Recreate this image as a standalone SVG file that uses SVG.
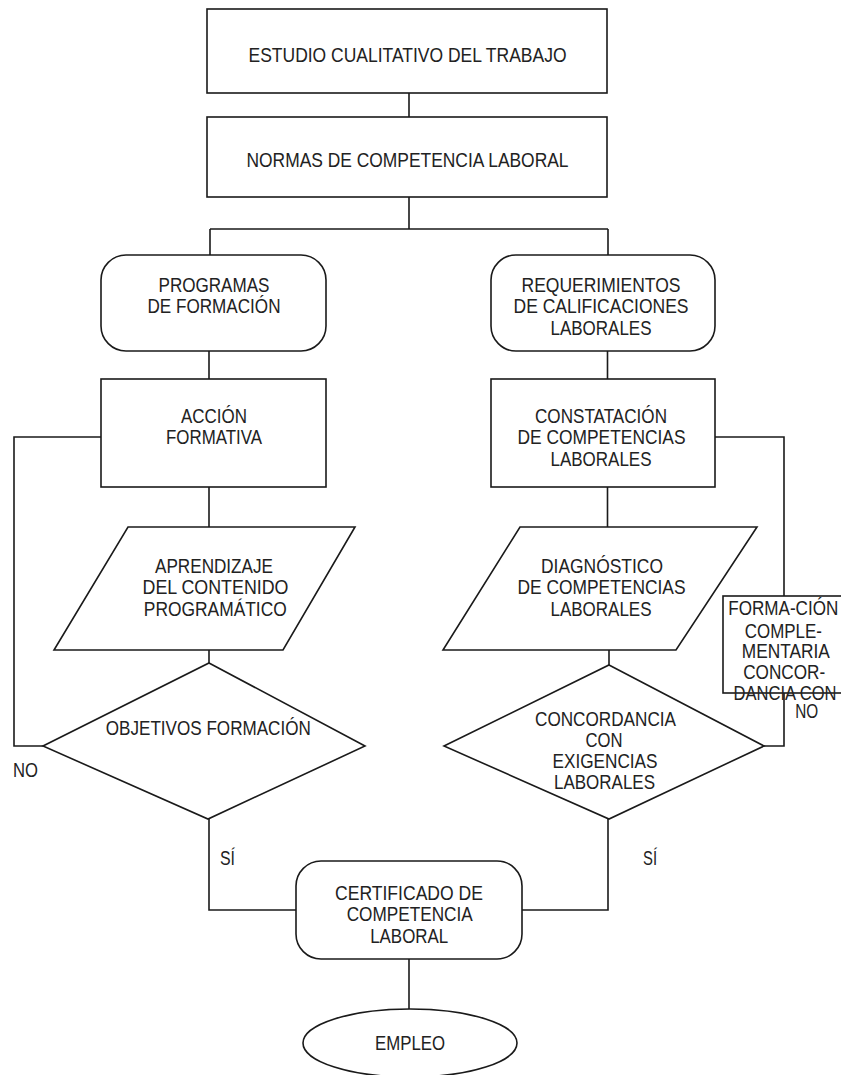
<svg xmlns="http://www.w3.org/2000/svg" width="841" height="1075" viewBox="0 0 841 1075">
<style>
.s{fill:#fff;stroke:#1a1a1a;stroke-width:1.6}
.c{fill:none;stroke:#1a1a1a;stroke-width:1.6}
text{font-family:"Liberation Sans",Arial,sans-serif;font-size:21px;fill:#222;text-anchor:middle}
.l{text-anchor:start}
</style>
<rect width="841" height="1075" fill="#fff"/>
<g id="connectors">
<path class="c" d="M409,93V117M409,197V229M210,229H608M210,229V255M608,229V255"/>
<path class="c" d="M209,351V379M209,487V527M209,650V663"/>
<path class="c" d="M607.5,351V379M607.5,487V527M609,650V665"/>
<path class="c" d="M101,437H14V746H43"/>
<path class="c" d="M715,437H784V596M784,693V746H764"/>
<path class="c" d="M209,819V910H296M608,819V910H522"/>
<path class="c" d="M409,959V1009"/>
</g>
<g id="n1"><rect class="s" x="207" y="9" width="400" height="84"/>
<text x="407.5" y="62" textLength="318" lengthAdjust="spacingAndGlyphs">ESTUDIO CUALITATIVO DEL TRABAJO</text></g>
<g id="n2"><rect class="s" x="207" y="117" width="400" height="80"/>
<text x="407.5" y="167" textLength="322" lengthAdjust="spacingAndGlyphs">NORMAS DE COMPETENCIA LABORAL</text></g>
<g id="n3"><rect class="s" x="101" y="255" width="225" height="96" rx="25"/>
<text x="214" y="292" textLength="111" lengthAdjust="spacingAndGlyphs">PROGRAMAS</text>
<text x="214" y="313" textLength="133" lengthAdjust="spacingAndGlyphs">DE FORMACIÓN</text></g>
<g id="n4"><rect class="s" x="491" y="255" width="224" height="96" rx="25"/>
<text x="601" y="292" textLength="159" lengthAdjust="spacingAndGlyphs">REQUERIMIENTOS</text>
<text x="601" y="313" textLength="175" lengthAdjust="spacingAndGlyphs">DE CALIFICACIONES</text>
<text x="601" y="335" textLength="101" lengthAdjust="spacingAndGlyphs">LABORALES</text></g>
<g id="n5"><rect class="s" x="101" y="379" width="225" height="108"/>
<text x="214" y="423" textLength="66" lengthAdjust="spacingAndGlyphs">ACCIÓN</text>
<text x="214" y="444" textLength="96" lengthAdjust="spacingAndGlyphs">FORMATIVA</text></g>
<g id="n6"><rect class="s" x="491" y="379" width="224" height="108"/>
<text x="601" y="423" textLength="132" lengthAdjust="spacingAndGlyphs">CONSTATACIÓN</text>
<text x="601.5" y="444" textLength="168" lengthAdjust="spacingAndGlyphs">DE COMPETENCIAS</text>
<text x="601" y="466" textLength="101" lengthAdjust="spacingAndGlyphs">LABORALES</text></g>
<g id="n7"><polygon class="s" points="128,527 355,527 283,650 54,650"/>
<text x="214" y="573" textLength="118" lengthAdjust="spacingAndGlyphs">APRENDIZAJE</text>
<text x="215.5" y="594" textLength="146" lengthAdjust="spacingAndGlyphs">DEL CONTENIDO</text>
<text x="215.3" y="616" textLength="143" lengthAdjust="spacingAndGlyphs">PROGRAMÁTICO</text></g>
<g id="n8"><polygon class="s" points="520,527 757,527 676,650 443,650"/>
<text x="602" y="573" textLength="122" lengthAdjust="spacingAndGlyphs">DIAGNÓSTICO</text>
<text x="601.5" y="594" textLength="168" lengthAdjust="spacingAndGlyphs">DE COMPETENCIAS</text>
<text x="601" y="616" textLength="101" lengthAdjust="spacingAndGlyphs">LABORALES</text></g>
<g id="n9"><polygon class="s" points="209,663 365,746 208,819 43,746"/>
<text x="208.3" y="735" textLength="205" lengthAdjust="spacingAndGlyphs">OBJETIVOS FORMACIÓN</text></g>
<g id="n10"><polygon class="s" points="609,665 764,746 609,819 444,746"/>
<text x="605.5" y="726" textLength="141" lengthAdjust="spacingAndGlyphs">CONCORDANCIA</text>
<text x="604" y="747" textLength="37" lengthAdjust="spacingAndGlyphs">CON</text>
<text x="605" y="768" textLength="105" lengthAdjust="spacingAndGlyphs">EXIGENCIAS</text>
<text x="604.5" y="789" textLength="101" lengthAdjust="spacingAndGlyphs">LABORALES</text></g>
<g id="n11"><rect class="s" x="723" y="596" width="124" height="97"/>
<text x="783.3" y="615" textLength="110" lengthAdjust="spacingAndGlyphs">FORMA-CIÓN</text>
<text x="783.3" y="638" textLength="77" lengthAdjust="spacingAndGlyphs">COMPLE-</text>
<text x="785.8" y="658" textLength="88" lengthAdjust="spacingAndGlyphs">MENTARIA</text>
<text x="784.2" y="679" textLength="82" lengthAdjust="spacingAndGlyphs">CONCOR-</text>
<text x="785" y="700" textLength="103" lengthAdjust="spacingAndGlyphs">DANCIA CON</text>
<text x="806.7" y="718" textLength="23" lengthAdjust="spacingAndGlyphs">NO</text></g>
<g id="n12"><rect class="s" x="296" y="861" width="226" height="98" rx="25"/>
<text x="409" y="900" textLength="148" lengthAdjust="spacingAndGlyphs">CERTIFICADO DE</text>
<text x="409.7" y="921" textLength="126" lengthAdjust="spacingAndGlyphs">COMPETENCIA</text>
<text x="409.2" y="943" textLength="78" lengthAdjust="spacingAndGlyphs">LABORAL</text></g>
<g id="n13"><ellipse class="s" cx="410" cy="1043" rx="107" ry="34"/>
<text x="410" y="1050" textLength="70" lengthAdjust="spacingAndGlyphs">EMPLEO</text></g>
<g id="labels">
<text class="l" x="13" y="777" textLength="25" lengthAdjust="spacingAndGlyphs">NO</text>
<text class="l" x="220" y="865" textLength="15" lengthAdjust="spacingAndGlyphs">SÍ</text>
<text class="l" x="643" y="865" textLength="14" lengthAdjust="spacingAndGlyphs">SÍ</text>
</g>
</svg>
